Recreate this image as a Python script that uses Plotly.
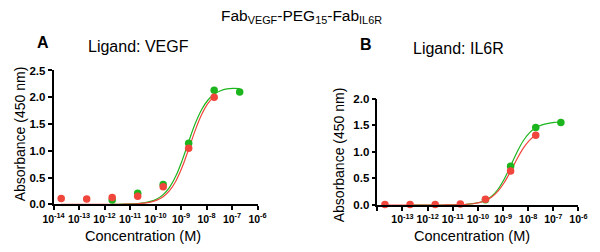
import plotly.graph_objects as go

# ---------------- data ----------------
# Panel A (Ligand: VEGF)
conc_red_A = [2e-14, 2e-13, 2e-12, 2e-11, 2e-10, 2e-9, 2e-8]
abs_red_A = [0.11, 0.10, 0.13, 0.15, 0.33, 1.05, 2.00]
conc_green_A = [2e-12, 2e-11, 2e-10, 2e-9, 2e-8, 2e-7]
abs_green_A = [0.08, 0.21, 0.37, 1.14, 2.13, 2.10]

# fitted curves (log10 concentration, absorbance)
fit_red_A_logx = [-13.7, -13.2, -12.7, -12.2, -11.7, -11.45, -11.2, -10.95, -10.7, -10.45, -10.2,
                  -9.95, -9.7, -9.45, -9.2, -8.95, -8.7, -8.45, -8.2, -7.95, -7.7]
fit_red_A_y = [0.0, 0.0, 0.0001, 0.0003, 0.001, 0.0019, 0.0035, 0.0066, 0.012, 0.023, 0.043,
               0.079, 0.144, 0.256, 0.437, 0.701, 1.03, 1.372, 1.667, 1.881, 2.018]
fit_green_A_logx = [-11.7, -11.45, -11.2, -10.95, -10.7, -10.45, -10.2, -9.95, -9.7, -9.45, -9.2,
                    -8.95, -8.7, -8.45, -8.2, -7.95, -7.7, -7.45, -7.2, -6.95, -6.7]
fit_green_A_y = [0.0013, 0.0024, 0.0044, 0.0083, 0.0156, 0.029, 0.055, 0.10, 0.182, 0.319, 0.533,
                 0.827, 1.17, 1.499, 1.763, 1.944, 2.056, 2.121, 2.155, 2.166, 2.162]

# Panel B (Ligand: IL6R)
conc_red_B = [2e-14, 2e-13, 2e-12, 2e-11, 2e-10, 2e-9, 2e-8]
abs_red_B = [0.01, 0.01, 0.01, 0.02, 0.11, 0.64, 1.31]
conc_green_B = [2e-13, 2e-12, 2e-11, 2e-10, 2e-9, 2e-8, 2e-7]
abs_green_B = [-0.01, -0.035, -0.025, 0.10, 0.73, 1.46, 1.55]

fit_red_B_logx = [-13.7, -13.2, -12.7, -12.2, -11.7, -11.45, -11.2, -10.95, -10.7, -10.45, -10.2,
                  -9.95, -9.7, -9.45, -9.2, -8.95, -8.7, -8.45, -8.2, -7.95, -7.7]
fit_red_B_y = [0.0, 0.0, 0.0, 0.0001, 0.0006, 0.0011, 0.002, 0.0038, 0.0071, 0.0133, 0.0248,
               0.046, 0.084, 0.151, 0.26, 0.423, 0.634, 0.861, 1.064, 1.216, 1.316]
fit_green_B_logx = [-12.7, -12.2, -11.7, -11.45, -11.2, -10.95, -10.7, -10.45, -10.2, -9.95, -9.7,
                    -9.45, -9.2, -8.95, -8.7, -8.45, -8.2, -7.95, -7.7, -7.45, -7.2, -6.95, -6.7]
fit_green_B_y = [0.0, 0.0001, 0.0005, 0.0009, 0.0018, 0.0035, 0.0069, 0.0132, 0.0255, 0.0487, 0.0917,
                 0.1685, 0.297, 0.489, 0.733, 0.988, 1.204, 1.357, 1.453, 1.507, 1.537, 1.553, 1.561]

decades = [-14, -13, -12, -11, -10, -9, -8, -7, -6]
xtick_text_A = [f"10<sup>{d}</sup>" for d in decades]
xtick_text_B = [""] + [f"10<sup>{d}</sup>" for d in decades[1:]]
yticks_A = [0.0, 0.5, 1.0, 1.5, 2.0, 2.5]
yticks_B = [0.0, 0.5, 1.0, 1.5, 2.0]

RED = "#F0463C"
GREEN = "#1DB51D"
FONT = "Liberation Sans, Arial, Helvetica, sans-serif"

fig = go.Figure()


def add_panel(xa, ya, fx_r, fy_r, fx_g, fy_g, cx_r, cy_r, cx_g, cy_g):
    fig.add_trace(go.Scatter(x=[10 ** v for v in fx_g], y=fy_g, mode="lines", line=dict(color=GREEN, width=1.2, shape="spline"),
                             xaxis=xa, yaxis=ya, showlegend=False, hoverinfo="skip"))
    fig.add_trace(go.Scatter(x=[10 ** v for v in fx_r], y=fy_r, mode="lines", line=dict(color=RED, width=1.2, shape="spline"),
                             xaxis=xa, yaxis=ya, showlegend=False, hoverinfo="skip"))
    fig.add_trace(go.Scatter(x=cx_g, y=cy_g, mode="markers", marker=dict(color=GREEN, size=7.5),
                             xaxis=xa, yaxis=ya, showlegend=False, cliponaxis=False))
    fig.add_trace(go.Scatter(x=cx_r, y=cy_r, mode="markers", marker=dict(color=RED, size=7.5),
                             xaxis=xa, yaxis=ya, showlegend=False, cliponaxis=False))


add_panel("x", "y", fit_red_A_logx, fit_red_A_y, fit_green_A_logx, fit_green_A_y,
          conc_red_A, abs_red_A, conc_green_A, abs_green_A)
add_panel("x2", "y2", fit_red_B_logx, fit_red_B_y, fit_green_B_logx, fit_green_B_y,
          conc_red_B, abs_red_B, conc_green_B, abs_green_B)

W, H = 600, 252

common_x = dict(type="log", range=[-14, -6], showline=True, linecolor="black", linewidth=1.5,
                ticks="outside", ticklen=4, tickwidth=1.5, tickcolor="black", showgrid=False,
                zeroline=False, tickangle=0, tickvals=[10 ** d for d in decades],
                tickfont=dict(family=FONT, size=10.5, color="black", weight="bold"))
common_y = dict(showline=True, linecolor="black", linewidth=1.5, ticks="outside", ticklen=4,
                tickwidth=1.5, tickcolor="black", showgrid=False, zeroline=False,
                tickformat=".1f", tickfont=dict(family=FONT, size=11.5, color="black", weight="bold"))

fig.update_layout(
    width=W, height=H, margin=dict(l=0, r=0, t=0, b=0),
    paper_bgcolor="white", plot_bgcolor="white",
    xaxis=dict(common_x, domain=[44 / W, 255 / W], ticktext=xtick_text_A, anchor="y"),
    yaxis=dict(common_y, domain=[(H - 208.3) / H, (H - 67.7) / H], range=[0, 2.5], tickvals=yticks_A, anchor="x"),
    xaxis2=dict(common_x, domain=[379 / W, 587 / W], ticktext=xtick_text_B, anchor="y2"),
    yaxis2=dict(common_y, domain=[(H - 209) / H, (H - 97.3) / H], range=[0, 2.0], tickvals=yticks_B, anchor="x2"),
)


def ann(text, x, y, size, bold=False, angle=0):
    fig.add_annotation(text=f"<b>{text}</b>" if bold else text, x=x / W, y=1 - y / H, xref="paper", yref="paper",
                       showarrow=False, xanchor="center", yanchor="middle", textangle=angle,
                       font=dict(family=FONT, size=size, color="black"))


ann("Fab<sub>VEGF</sub>-PEG<sub>15</sub>-Fab<sub>IL6R</sub>", 300, 11, 15.5)
ann("A", 33, 38, 16, bold=True)
ann("B", 367, 40, 16, bold=True)
ann("Ligand: VEGF", 132, 43, 16)
ann("Ligand: IL6R", 463, 45, 16)
ann("Absorbance (450 nm)", 9, 134, 14, angle=-90)
ann("Absorbance (450 nm)", 339, 156, 14, angle=-90)
ann("Concentration (M)", 137, 242, 14.5)
ann("Concentration (M)", 477, 242, 14.5)

fig.write_html("out.html", config={"displayModeBar": False},
               post_script="document.body.style.margin='0';document.body.style.padding='0';document.body.style.overflow='hidden';")
